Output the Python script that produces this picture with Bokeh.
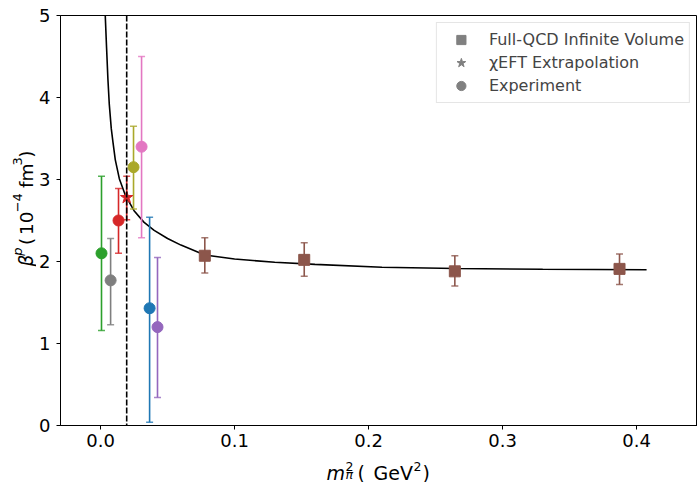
import numpy as np
from bokeh.plotting import figure
from bokeh.layouts import row, column
from bokeh.core.properties import value
from bokeh.models import (Range1d, FixedTicker, PrintfTickFormatter, ColumnDataSource,
                          Span, Legend, LegendItem)
from bokeh.embed import file_html
from bokeh.resources import INLINE

# ---------------- data ----------------
exp_x = [0.0007, 0.0075, 0.0134, 0.0246, 0.0306, 0.0366, 0.0425]
exp_y = [2.10, 1.77, 2.50, 3.15, 3.40, 1.43, 1.20]
exp_lo = [1.16, 1.23, 2.10, 2.64, 2.29, 0.04, 0.34]
exp_hi = [3.04, 2.28, 2.89, 3.65, 4.50, 2.54, 2.05]
exp_colors = ["#2ca02c", "#7f7f7f", "#d62728", "#aaa82a", "#e377c2", "#1f77b4", "#9467bd"]

chi_x = [0.0195]
chi_y = [2.78]
chi_lo = [2.51]
chi_hi = [3.04]

qcd_x = [0.0778, 0.152, 0.2644, 0.3873]
qcd_y = [2.07, 2.02, 1.88, 1.91]
qcd_lo = [1.86, 1.82, 1.70, 1.72]
qcd_hi = [2.29, 2.23, 2.07, 2.09]

curve_x = [0.0032, 0.0035, 0.0045, 0.0055, 0.0065, 0.0080, 0.0093, 0.0110, 0.0140,
           0.0187, 0.0250, 0.0323, 0.0400, 0.0500, 0.0600, 0.0778, 0.1000, 0.1300,
           0.1600, 0.2100, 0.2650, 0.3300, 0.4075]
curve_y = [5.15, 5.00, 4.60, 4.22, 3.92, 3.62, 3.45, 3.24, 3.01,
           2.80, 2.62, 2.48, 2.38, 2.28, 2.20, 2.08, 2.03, 1.99,
           1.965, 1.93, 1.915, 1.905, 1.90]

phys_mpi2 = 0.0195

x_ticks = [0.0, 0.1, 0.2, 0.3, 0.4]
y_ticks = [0, 1, 2, 3, 4, 5]

legend_labels = ["Full-QCD Infinite Volume", "\u03c7EFT Extrapolation", "Experiment"]

FONT = "DejaVu Sans"
TOTAL_W, TOTAL_H = 697, 482
YLAB_W = 36                     # strip holding the y-axis title
MAIN_W, MAIN_H = TOTAL_W - YLAB_W, 454
XLAB_H = TOTAL_H - MAIN_H       # strip holding the x-axis title

# ---------------- main plot ----------------
p = figure(width=MAIN_W, height=MAIN_H,
           x_range=Range1d(-0.0299, 0.4455), y_range=Range1d(0, 5),
           output_backend="svg", toolbar_location=None,
           min_border_left=60 - YLAB_W, min_border_right=0, min_border_top=15,
           min_border_bottom=MAIN_H - 425)
p.xgrid.visible = False
p.ygrid.visible = False
p.outline_line_color = "black"
p.outline_line_width = 1

for ax in (p.xaxis[0], p.yaxis[0]):
    ax.axis_line_color = "black"
    ax.major_tick_line_color = "black"
    ax.major_tick_out = 4
    ax.major_tick_in = 0
    ax.minor_tick_out = 0
    ax.minor_tick_in = 0
    ax.major_label_text_font = FONT
    ax.major_label_text_font_size = "18px"
    ax.major_label_text_color = "black"
p.xaxis.ticker = FixedTicker(ticks=x_ticks)
p.yaxis.ticker = FixedTicker(ticks=y_ticks)
p.xaxis.formatter = PrintfTickFormatter(format="%.1f")
p.yaxis.formatter = PrintfTickFormatter(format="%d")
p.xaxis.major_label_standoff = 4
p.yaxis.major_label_standoff = 6

p.line(curve_x, curve_y, line_color="black", line_width=1.6)
p.add_layout(Span(location=phys_mpi2, dimension="height", line_color="black",
                  line_width=1.6, line_dash="6 2"))

def errbars(xs, lo, hi, colors):
    src = ColumnDataSource(dict(x=xs, lo=lo, hi=hi, c=colors))
    p.segment(x0="x", y0="lo", x1="x", y1="hi", source=src, line_color="c", line_width=1.6)
    for key in ("lo", "hi"):
        p.scatter(x="x", y=key, source=src, marker="dash", size=7, line_color="c",
                  line_width=1.5, line_alpha=0.8)

errbars(exp_x, exp_lo, exp_hi, exp_colors)
errbars(chi_x, chi_lo, chi_hi, ["#d62728"])
errbars(qcd_x, qcd_lo, qcd_hi, ["#8c564b"] * len(qcd_x))

p.scatter(x=exp_x, y=exp_y, marker="circle", size=11, fill_color=exp_colors, line_color=exp_colors)
p.scatter(x=chi_x, y=chi_y, marker="star", size=13, fill_color="#d62728", line_color="#d62728")
p.scatter(x=qcd_x, y=qcd_y, marker="square", size=11, fill_color="#8c564b", line_color="#8c564b")

nan = [np.nan]
r_sq = p.scatter(x=nan, y=nan, marker="square", size=10, fill_color="#808080", line_color="#808080")
r_st = p.scatter(x=nan, y=nan, marker="star", size=10, fill_color="#808080", line_color="#808080")
r_ci = p.scatter(x=nan, y=nan, marker="circle", size=10, fill_color="#808080", line_color="#808080")
legend = Legend(items=[LegendItem(label=legend_labels[0], renderers=[r_sq]),
                       LegendItem(label=legend_labels[1], renderers=[r_st]),
                       LegendItem(label=legend_labels[2], renderers=[r_ci])],
                location="top_right", margin=7, padding=5, spacing=0,
                label_height=23, glyph_height=23, glyph_width=38, label_standoff=9,
                label_text_font=FONT, label_text_font_size="16px",
                border_line_color="#cccccc", border_line_width=1,
                background_fill_alpha=0.8)
p.add_layout(legend, "center")

# ---------------- title strips (pixel coordinates) ----------------
def strip(w, h):
    f = figure(width=w, height=h, x_range=Range1d(0, w), y_range=Range1d(0, h),
               x_axis_type=None, y_axis_type=None, output_backend="svg",
               toolbar_location=None, min_border=0, min_border_left=0,
               min_border_right=0, min_border_top=0, min_border_bottom=0)
    f.outline_line_color = None
    return f

def piece(f, x, y, text, size, italic=False, angle=0.0):
    f.text(x=[x], y=[y], text=[text], angle=angle, text_font=value(FONT),
           text_font_size=value(size), text_font_style="italic" if italic else "normal",
           text_color="black", text_align="left", text_baseline="alphabetic")

# y title: beta^p (10^-4 fm^3); x = image column, y measured upward from strip bottom
fy = strip(YLAB_W, MAIN_H)
A = np.pi / 2
B = MAIN_H - 425          # frame bottom inside the strip
piece(fy, 26, B + 147, "\u03b2", "18.5px", italic=True, angle=A)
piece(fy, 17, B + 159, "p", "13px", italic=True, angle=A)
piece(fy, 26, B + 171, "(", "18.5px", angle=A)
piece(fy, 26, B + 182, "10", "18.5px", angle=A)
piece(fy, 17, B + 207, "\u22124", "13px", angle=A)
piece(fy, 26, B + 234, "fm", "18.5px", angle=A)
piece(fy, 17, B + 259, "3", "13px", angle=A)
piece(fy, 26, B + 267.5, ")", "18.5px", angle=A)

# x title: m_pi^2 ( GeV^2)
fx = strip(TOTAL_W, XLAB_H)
def yb(img_y):
    return TOTAL_H - img_y
piece(fx, 326, yb(472), "m", "19px", italic=True)
piece(fx, 345, yb(466), "2", "12.5px")
piece(fx, 345, yb(474), "\u03c0", "12.5px", italic=True)
piece(fx, 357, yb(472), "(", "19px")
piece(fx, 373, yb(472), "GeV", "19px")
piece(fx, 413, yb(466), "2", "12.5px")
piece(fx, 422, yb(472), ")", "19px")

layout = column(row(fy, p), fx)
open("out.html", "w").write(file_html(layout, INLINE))
